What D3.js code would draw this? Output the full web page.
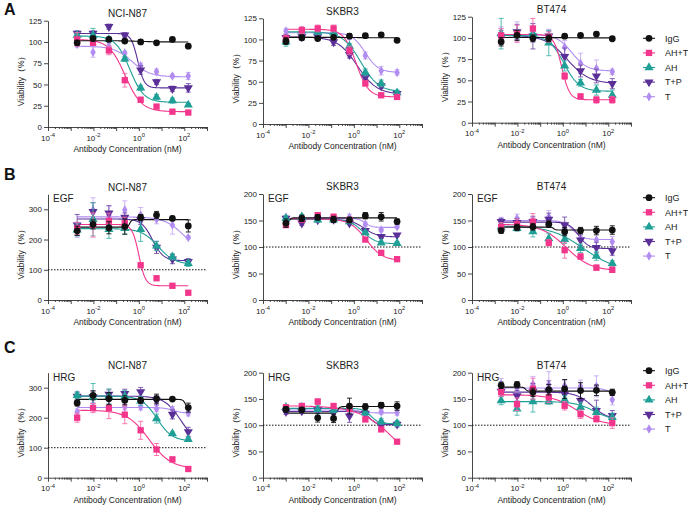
<!DOCTYPE html>
<html><head><meta charset="utf-8">
<script src="https://cdn.jsdelivr.net/npm/d3@7"></script>
<style>body{margin:0;background:#fff}</style>
</head><body><svg id="c" width="688" height="507"></svg>
<script>
// ---------- DATA ----------
const seriesNames = ["IgG","AH+T","AH","T+P","T"];
const seriesColors = ["#111111","#f2368c","#1f9f96","#5b2f98","#b08cf0"];
const errColors = ["#111111","#f56aa8","#45b3ab","#7650aa","#c8adf5"];
const rowLetters = ["A","B","C"];
const cellLines = ["NCI-N87","SKBR3","BT474"];
const rowTags = ["","EGF","HRG"];
const concN87BT = [0.00192,0.0096,0.048,0.24,1.2,6,30,150];
const concSK = [0.001024,0.00512,0.0256,0.128,0.64,3.2,16,80];
const xTickExps = [-4,-2,0,2];
const yTicksA = [0,25,50,75,100,125];
const yTicks350 = [0,100,200,300];
const yTicks200 = [0,50,100,150,200];

// values: rows = IgG, AH+T, AH, T+P, T ; fits = [top, bottom, logEC50, hill]
const valsA_N87 = [[99,104,103,101,100,99,103,95],[103,99,90,55,32,24,18,17],[108,108,103,80,46,35,31,26],[110,110,118,108,67,53,45,46],[97,88,95,87,72,65,60,60]];
const errA_N87 = [[3,3,2,2,2,2,2,2],[8,3,5,8,3,2,2,2],[3,8,3,3,3,3,3,2],[3,3,3,3,5,3,3,5],[3,6,3,2,3,3,2,4]];
const fitA_N87 = [[101.5,100,0,1],[103,18,-0.6,1.2],[107,29,-0.4,1.4],[110,46,-0.05,3],[95,59,-0.3,1.1]];

const valsA_SK = [[98,102,101,102.5,104,104.5,105.5,99],[101,111,113,113,87,48,34,32],[97,110,109,108,92,61,48,37],[102,103,103,97,82,55,45,36],[110,107,108,108,103,81,63,61]];
const errA_SK = [[4,3,2,2,3,2,2,2],[4,4,4,4,5,3,2,2],[5,3,3,3,3,4,4,3],[4,3,3,4,4,3,3,3],[3,4,3,3,3,4,5,3]];
const fitA_SK = [[102.5,102,0,1],[112,32,0.1,1.6],[109,38,0.3,1.1],[103,35,0.15,1.0],[108,61,0.5,1.5]];

const valsA_BT = [[95.5,103,99.5,99.5,102,103,104.5,99],[103,105,111,101,55,31,27,27],[105,104,105,94,67,47,38.5,32.5],[101,107,102,102,78,61,55,46],[103,107,105,102,89,70,64,60]];
const errA_BT = [[5,6,4,4,2,2,2,2],[8,10,12,6,4,3,4,4],[18,5,8,15,6,4,6,6],[8,9,15,6,10,7,8,6],[10,12,10,8,8,12,10,3]];
const fitA_BT = [[100.5,100,0,1],[104,27,-0.05,2.5],[103,37,0.05,1.3],[103,46,0.2,0.9],[104,61,0.4,1.3]];

const valsB_N87 = [[229,250,239,243,273,281,270,245],[237,248,262,254,115,72,47,24],[232,267,234,237,234,179,143,121],[248,292,287,273,265,174,135,127],[232,298,281,298,281,267,248,207]];
const errB_N87 = [[15,15,20,25,10,12,5,20],[20,40,25,20,3,3,3,3],[20,55,30,20,40,15,10,10],[35,30,25,15,15,20,15,10],[25,40,30,30,25,15,30,5]];
const fitB_N87 = [[241,266,-0.4,10],[250,47,0.0,3],[236,118,0.85,1.2],[268,130,0.6,1.8],[275,150,2.0,1.0]];

const valsB_SK = [[145,154,156,152,151,159,157,148],[141.5,152,160,157,151,114,89,77],[154,157,151,151,148,127,108,107],[154,145,151,152,145,131,119.5,122.5],[156,156,152,152,156,143,132,138]];
const errB_SK = [[8,6,5,6,5,6,8,5],[5,5,5,5,3,4,3,3],[5,4,4,3,3,3,3,3],[4,4,4,4,3,3,3,3],[3,3,3,3,6,4,3,3]];
const fitB_SK = [[143,155,-2.85,10],[153,74,0.55,1.2],[152,106,0.4,1.5],[152,119,0.45,1.5],[154,137,0.5,3]];

const valsB_BT = [[131,137,138,143,129,131,131,132],[138,143,148,108,94,82,61,57],[138,135,129,116,114.5,97.5,83,69],[148,146,148,152,141.5,113,99,92.5],[148,154,148,157,135,116,113,110]];
const errB_BT = [[5,6,6,6,8,6,8,8],[8,10,15,6,15,5,5,5],[5,5,10,10,8,8,8,5],[6,8,10,12,15,10,10,8],[8,8,8,12,12,15,15,10]];
const fitB_BT = [[137.5,132,-0.4,10],[143,55,0.15,0.8],[140,55,0.9,0.6],[147,97,0.7,2],[150,114,0.45,2]];

const valsC_N87 = [[249,274.5,263.5,258,258,263.5,262,233.6],[200,232,232,210,158,94,61,29],[274.5,269,271,271,256,197,147,128],[271,269,278,280,286,258,211,153],[219,236,236,236,236,230,227,216]];
const errC_N87 = [[10,15,20,15,10,15,5,15],[15,15,35,30,30,20,8,5],[10,45,25,20,15,15,5,5],[15,20,15,15,15,15,15,15],[10,10,10,10,10,10,10,10]];
const fitC_N87 = [[261,230,2.05,8],[225,30,0.45,0.9],[272,122,0.8,1.3],[272,110,1.85,1.2],[234,215,1.5,2]];

const valsC_SK = [[130,129,114,113,136.5,135,138,136.5],[134,136.5,145,136.5,131,111,92,68.6],[134,134,130,129,133,124,107,103.5],[125.7,127,129,124,117.5,122.5,100,101.6],[129,129,129,129,129,122.5,125.7,124]];
const errC_SK = [[5,5,8,8,15,6,5,8],[5,5,5,5,4,4,3,3],[5,5,8,5,5,5,5,5],[5,5,5,10,12,5,5,5],[5,5,5,5,5,5,5,5]];
const fitC_SK = [[123,135.5,-0.7,10],[137,0,1.9,0.55],[132,103,0.75,2.5],[126,101,0.7,3],[129,123.5,0.3,3]];

const valsC_BT = [[176,177,162.6,167.7,169,166,166.5,162.6],[163,140,169.6,153,137,121,112,104],[147,131,145,145,148.6,134,124.5,115],[164.5,156,164.5,164.5,159.4,146.7,127.7,118],[179,171,178,177,175,174,174,148.6]];
const errC_BT = [[6,6,8,10,18,15,10,6],[8,12,20,10,8,8,6,10],[8,12,20,5,8,10,10,8],[10,10,15,20,15,20,20,10],[10,10,15,25,10,12,20,10]];
const fitC_BT = [[172.5,165,-1.65,10],[158,100,0.6,0.8],[145,108,1.4,1.0],[163,110,1.3,1.2],[171,160,2,2]];

// ---------- LAYOUT ----------
const FONT = "'Liberation Sans', Arial, Helvetica, sans-serif";
const TXT = "#222";
const colX = [[48,207],[263,422],[472,631]];
const rowGeom = [
  {y0:[127,124,122.7], yTop:[20.7,18.3,16.7]},
  {y0:[300,300,300], yTop:[194.2,194,194]},
  {y0:[477.7,477.7,477.7], yTop:[372.7,372.7,372.7]}
];
const letterY = [15,180,353];
const legendStart = [38.3,197.7,370.7];

const panels = [
  {r:0,c:0,conc:concN87BT,vals:valsA_N87,errs:errA_N87,fits:fitA_N87,yMax:125,ticks:yTicksA},
  {r:0,c:1,conc:concSK,vals:valsA_SK,errs:errA_SK,fits:fitA_SK,yMax:125,ticks:yTicksA},
  {r:0,c:2,conc:concN87BT,vals:valsA_BT,errs:errA_BT,fits:fitA_BT,yMax:125,ticks:yTicksA},
  {r:1,c:0,conc:concN87BT,vals:valsB_N87,errs:errB_N87,fits:fitB_N87,yMax:350,ticks:yTicks350},
  {r:1,c:1,conc:concSK,vals:valsB_SK,errs:errB_SK,fits:fitB_SK,yMax:200,ticks:yTicks200},
  {r:1,c:2,conc:concN87BT,vals:valsB_BT,errs:errB_BT,fits:fitB_BT,yMax:200,ticks:yTicks200},
  {r:2,c:0,conc:concN87BT,vals:valsC_N87,errs:errC_N87,fits:fitC_N87,yMax:350,ticks:yTicks350},
  {r:2,c:1,conc:concSK,vals:valsC_SK,errs:errC_SK,fits:fitC_SK,yMax:200,ticks:yTicks200},
  {r:2,c:2,conc:concN87BT,vals:valsC_BT,errs:errC_BT,fits:fitC_BT,yMax:200,ticks:yTicks200}
];

const symTypes = [d3.symbolCircle, d3.symbolSquare, d3.symbolTriangle, d3.symbolTriangle, d3.symbolDiamond];
const symSizes = [36, 40, 36, 36, 26];
const symRot = [0,0,0,180,0];
const drawOrder = [4,3,2,1,0];

const svg = d3.select("#c").style("font-family", FONT);
const majors = d3.range(-4,4).map(e => Math.pow(10,e));
const minors = [];
for (let e=-4;e<3;e++) for (let k=2;k<10;k++) minors.push(k*Math.pow(10,e));

function fit4pl(f, lx){ return f[1] + (f[0]-f[1])/(1+Math.pow(10,(lx-f[2])*f[3])); }

function marker(g, s, cx, cy){
  g.append("path")
    .attr("d", d3.symbol().type(symTypes[s]).size(symSizes[s])())
    .attr("transform", `translate(${cx},${cy}) rotate(${symRot[s]})`)
    .attr("fill", seriesColors[s]);
}

panels.forEach(p => {
  const [x0,x1] = colX[p.c];
  const y0 = rowGeom[p.r].y0[p.c], yT = rowGeom[p.r].yTop[p.c];
  const x = d3.scaleLog().domain([1e-4,1e3]).range([x0,x1]);
  const y = d3.scaleLinear().domain([0,p.yMax]).range([y0,yT]);
  const g = svg.append("g");

  // x axis
  g.append("g").attr("transform",`translate(0,${y0})`)
    .call(d3.axisBottom(x).tickValues(majors).tickSize(4).tickSizeOuter(0).tickFormat(()=>""));
  g.append("g").attr("transform",`translate(0,${y0})`)
    .call(d3.axisBottom(x).tickValues(minors).tickSize(2).tickSizeOuter(0).tickFormat(()=>""))
    .select(".domain").remove();
  xTickExps.forEach(e => {
    const t = g.append("text").attr("x", x(Math.pow(10,e))).attr("y", y0+13.5)
      .attr("text-anchor","middle").attr("font-size",8).attr("fill",TXT);
    t.append("tspan").text("10");
    t.append("tspan").attr("dy",-3.5).attr("font-size",5.8).text(String(e));
  });
  // y axis
  g.append("g").attr("transform",`translate(${x0},0)`)
    .call(d3.axisLeft(y).tickValues(p.ticks).tickSize(4).tickSizeOuter(0).tickPadding(2))
    .call(a => a.selectAll("text").attr("font-size",8).attr("fill",TXT).attr("font-family",FONT));
  svg.selectAll(".domain, .tick line").attr("stroke","#333").attr("stroke-width",0.9);

  // titles and labels
  g.append("text").attr("x",(x0+x1)/2).attr("y",yT-3.7).attr("text-anchor","middle")
    .attr("font-size",10).attr("fill",TXT).text(cellLines[p.c]);
  g.append("text").attr("x",(x0+x1)/2).attr("y",y0+25).attr("text-anchor","middle")
    .attr("font-size",8.5).attr("fill",TXT).text("Antibody Concentration (nM)");
  g.append("text").attr("transform",`translate(${x0-24},${(y0+yT)/2+5}) rotate(-90)`)
    .attr("text-anchor","middle").attr("font-size",8.5).attr("fill",TXT).text("Viability（%）");
  if (rowTags[p.r]) {
    g.append("text").attr("x",x0+5).attr("y",yT+8).attr("font-size",10).attr("fill",TXT).text(rowTags[p.r]);
    g.append("line").attr("x1",x0).attr("x2",x1).attr("y1",y(100)).attr("y2",y(100))
      .attr("stroke","#111").attr("stroke-width",1).attr("stroke-dasharray","1.5,1.5");
  }

  const lo = Math.log10(p.conc[0]), hi = Math.log10(p.conc[p.conc.length-1]);
  drawOrder.forEach(s => {
    const f = p.fits[s];
    const pts = d3.range(0,161).map(i => { const lx = lo + (hi-lo)*i/160; return [x(Math.pow(10,lx)), y(fit4pl(f,lx))]; });
    g.append("path").attr("d", d3.line()(pts)).attr("fill","none")
      .attr("stroke",seriesColors[s]).attr("stroke-width",1.1);
  });
  drawOrder.forEach(s => {
    p.vals[s].forEach((v,i) => {
      const cx = x(p.conc[i]), e = p.errs[s][i];
      const ya = y(v+e), yb = y(Math.max(0,v-e));
      g.append("path").attr("d",`M${cx},${ya}V${yb}M${cx-2.5},${ya}H${cx+2.5}M${cx-2.5},${yb}H${cx+2.5}`)
        .attr("stroke",errColors[s]).attr("stroke-width",0.9).attr("fill","none");
    });
    p.vals[s].forEach((v,i) => marker(g, s, x(p.conc[i]), y(v)));
  });
});

// letters
rowLetters.forEach((L,i) => svg.append("text").attr("x",4).attr("y",letterY[i])
  .attr("font-size",16).attr("font-weight","bold").attr("fill","#111").text(L));

// legends
legendStart.forEach(y0 => {
  seriesNames.forEach((n,s) => {
    const yy = y0 + s*14.6;
    svg.append("line").attr("x1",643).attr("x2",655).attr("y1",yy).attr("y2",yy)
      .attr("stroke",seriesColors[s]).attr("stroke-width",1.1);
    marker(svg, s, 649, yy);
    svg.append("text").attr("x",665).attr("y",yy+3.2).attr("font-size",9).attr("fill",TXT).text(n);
  });
});
</script></body></html>
